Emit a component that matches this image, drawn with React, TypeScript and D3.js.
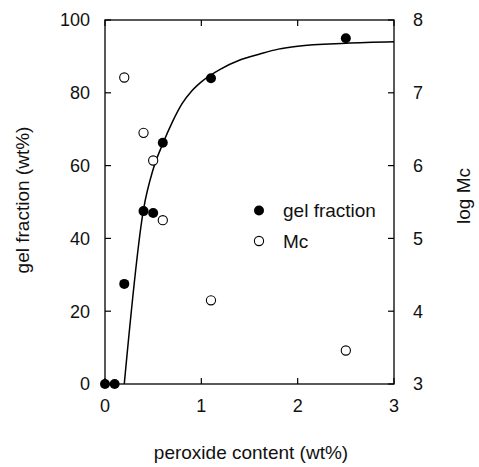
import React from "react";
import * as d3 from "d3";

// Peroxide content (wt%) for each sample
const gelX = [0, 0.1, 0.2, 0.4, 0.5, 0.6, 1.1, 2.5];
// Gel fraction (wt%)
const gelY = [0, 0, 27.5, 47.5, 47, 66.3, 84, 95];

// Crosslink density samples: peroxide content and log Mc
const mcX = [0.2, 0.4, 0.5, 0.6, 1.1, 2.5];
const mcY = [7.21, 6.45, 6.07, 5.25, 4.15, 3.46];

// Fitted gel-fraction curve
const fitX = [0.2, 0.4, 0.5, 0.6, 0.7, 0.8, 0.9, 1.0, 1.2, 1.4, 1.6, 1.8, 2.0, 2.5, 3.0];
const fitY = [0, 48, 59, 66, 72, 77, 80.5, 83, 86.5, 89, 90.6, 92, 92.8, 93.6, 94];

const xTicks = [0, 1, 2, 3];
const leftTicks = [0, 20, 40, 60, 80, 100];
const rightTicks = [3, 4, 5, 6, 7, 8];

const W = 479;
const H = 467;
const M = { left: 105, right: 394, top: 20, bottom: 384 };
const FONT = "'Liberation Sans', Arial, sans-serif";

export default function App() {
  const x = d3.scaleLinear().domain([0, 3]).range([M.left, M.right]);
  const yL = d3.scaleLinear().domain([0, 100]).range([M.bottom, M.top]);
  const yR = d3.scaleLinear().domain([3, 8]).range([M.bottom, M.top]);

  const line = d3
    .line<number>()
    .x((_, i) => x(fitX[i]))
    .y((d) => yL(d))
    .curve(d3.curveMonotoneX);

  const tick = 6;
  const fs = 18;
  const ts = 19;
  const ink = "#111";

  return (
    <svg
      width={W}
      height={H}
      style={{ position: "absolute", left: 0, top: 0, background: "#fff" }}
      fontFamily={FONT}
    >
      {/* frame */}
      <rect
        x={M.left}
        y={M.top}
        width={M.right - M.left}
        height={M.bottom - M.top}
        fill="none"
        stroke="#000"
        strokeWidth={1.3}
      />

      {/* bottom & top ticks */}
      {xTicks.map((t) => (
        <g key={"x" + t}>
          <line x1={x(t)} x2={x(t)} y1={M.bottom} y2={M.bottom - tick} stroke="#000" strokeWidth={1.2} />
          <line x1={x(t)} x2={x(t)} y1={M.top} y2={M.top + tick} stroke="#000" strokeWidth={1.2} />
          <text x={x(t)} y={M.bottom + 28} textAnchor="middle" fontSize={fs} fill={ink}>
            {t}
          </text>
        </g>
      ))}

      {/* left ticks */}
      {leftTicks.map((t) => (
        <g key={"l" + t}>
          <line x1={M.left} x2={M.left + tick} y1={yL(t)} y2={yL(t)} stroke="#000" strokeWidth={1.2} />
          <text x={M.left - 15} y={yL(t)} dy="0.36em" textAnchor="end" fontSize={fs} fill={ink}>
            {t}
          </text>
        </g>
      ))}

      {/* right ticks */}
      {rightTicks.map((t) => (
        <g key={"r" + t}>
          <line x1={M.right} x2={M.right - tick} y1={yR(t)} y2={yR(t)} stroke="#000" strokeWidth={1.2} />
          <text x={M.right + 19} y={yR(t)} dy="0.36em" textAnchor="start" fontSize={fs} fill={ink}>
            {t}
          </text>
        </g>
      ))}

      {/* fitted curve */}
      <path d={line(fitY) || ""} fill="none" stroke="#000" strokeWidth={1.5} />

      {/* gel fraction points */}
      {gelX.map((v, i) => (
        <circle key={"g" + i} cx={x(v)} cy={yL(gelY[i])} r={5} fill="#000" />
      ))}

      {/* Mc points */}
      {mcX.map((v, i) => (
        <circle key={"m" + i} cx={x(v)} cy={yR(mcY[i])} r={4.6} fill="#fff" stroke="#000" strokeWidth={1.1} />
      ))}

      {/* legend */}
      <circle cx={259} cy={210.5} r={5} fill="#000" />
      <text x={283} y={210.5} dy="0.36em" fontSize={ts} fill={ink}>
        gel fraction
      </text>
      <circle cx={259} cy={241} r={4.6} fill="#fff" stroke="#000" strokeWidth={1.1} />
      <text x={283} y={241} dy="0.36em" fontSize={ts} fill={ink}>
        Mc
      </text>

      {/* axis titles */}
      <text x={251} y={459} textAnchor="middle" fontSize={ts} fill={ink}>
        peroxide content (wt%)
      </text>
      <text
        transform={`translate(29,200) rotate(-90)`}
        textAnchor="middle"
        fontSize={ts}
        fill={ink}
      >
        gel fraction (wt%)
      </text>
      <text
        transform={`translate(470,196) rotate(-90)`}
        textAnchor="middle"
        fontSize={ts}
        fill={ink}
      >
        log Mc
      </text>
    </svg>
  );
}
